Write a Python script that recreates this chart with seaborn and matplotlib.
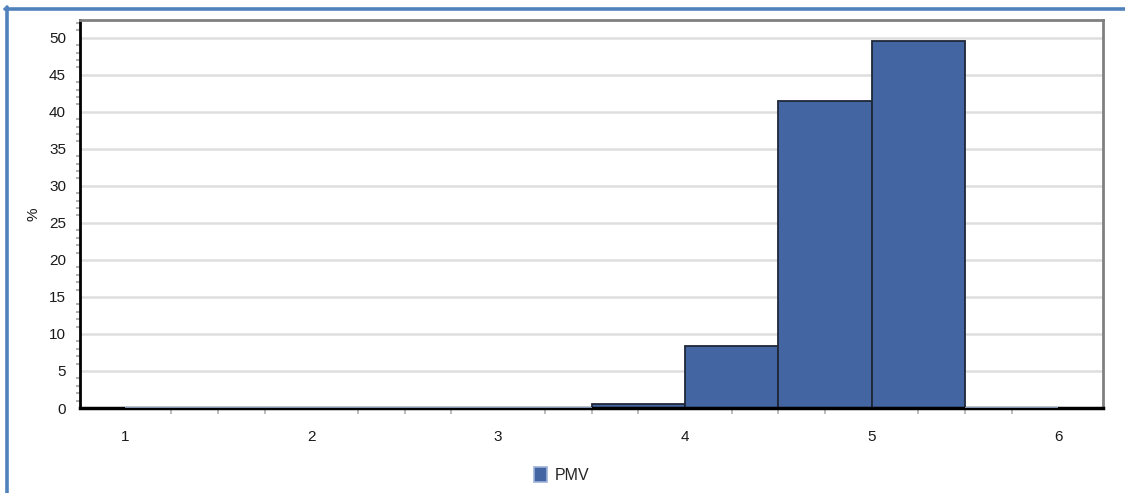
import numpy as np
import matplotlib
matplotlib.use("Agg")
import matplotlib.pyplot as plt
import seaborn as sns
from matplotlib.lines import Line2D
from matplotlib.ticker import MultipleLocator

# histogram data (percent per 0.5-wide PMV bin)
bin_edges = [1.0, 1.5, 2.0, 2.5, 3.0, 3.5, 4.0, 4.5, 5.0, 5.5, 6.0]
bin_values = [0, 0, 0, 0, 0, 0.6, 8.4, 41.5, 49.5, 0]
series_name = "PMV"
y_ticks = [0, 5, 10, 15, 20, 25, 30, 35, 40, 45, 50]
x_ticks = [1, 2, 3, 4, 5, 6]

bin_centers = [(a + b) / 2 for a, b in zip(bin_edges[:-1], bin_edges[1:])]

sns.set_style("white")
plt.rcParams["font.family"] = ["Liberation Sans Narrow", "Liberation Sans", "DejaVu Sans"]

fig = plt.figure(figsize=(11.25, 4.93), dpi=100)
ax = fig.add_axes([80 / 1125, 1 - 408 / 493, (1103 - 80) / 1125, (408 - 20) / 493])

sns.histplot(x=bin_centers, weights=bin_values, bins=bin_edges, ax=ax,
             color="#4365A2", alpha=1, edgecolor="#1f2738", linewidth=1.3,
             label=series_name, zorder=3)

# empty bins show as a thin light-blue line sitting on the axis
for p in ax.patches:
    if p.get_height() == 0:
        p.set_edgecolor("#9db2d8")
        p.set_linewidth(1.2)
        p.set_zorder(6)

ax.set_xlim(0.76, 6.24)
ax.set_ylim(0, 52.4)
ax.set_yticks(y_ticks)
ax.set_xticks(x_ticks)
ax.yaxis.set_minor_locator(MultipleLocator(1))
ax.xaxis.set_minor_locator(MultipleLocator(0.25))

ax.grid(axis="y", color="#dedede", linewidth=1.8, zorder=0)
ax.set_axisbelow(True)

ax.tick_params(axis="both", which="major", direction="out", length=6, width=1.2,
               color="#a0a0a0", labelsize=11, labelcolor="#1a1a1a", pad=4)
ax.tick_params(axis="y", which="minor", direction="out", length=3, width=1.5,
               color="#b0b0b0", left=True)
ax.tick_params(axis="x", which="minor", direction="out", length=4, width=1.2,
               color="#b0b0b0", bottom=True)
ax.tick_params(axis="x", which="major", pad=10)

for side in ["top", "right"]:
    ax.spines[side].set_color("#808080")
    ax.spines[side].set_linewidth(2)
ax.spines["left"].set_color("black")
ax.spines["left"].set_linewidth(2)
ax.spines["bottom"].set_color("black")
ax.spines["bottom"].set_linewidth(2.5)
ax.spines["bottom"].set_zorder(5)

ax.set_xlabel("")
ax.set_ylabel("%", fontsize=11, color="#1a1a1a", labelpad=6)

ax.legend(loc="center", frameon=False, fontsize=11.5,
          handlelength=0.8, handleheight=1.1, handletextpad=0.5)
leg = ax.get_legend()
leg.set_bbox_to_anchor((562 / 1125, 1 - 475 / 493), transform=fig.transFigure)

# outer blue frame (top and left)
fig.add_artist(Line2D([5 / 1125, 1], [1 - 8.5 / 493, 1 - 8.5 / 493],
                      transform=fig.transFigure, color="#4F81BD", linewidth=2.6))
fig.add_artist(Line2D([6.5 / 1125, 6.5 / 1125], [1 - 7 / 493, 0],
                      transform=fig.transFigure, color="#4F81BD", linewidth=2.6))

fig.savefig("out.png", dpi=100)
